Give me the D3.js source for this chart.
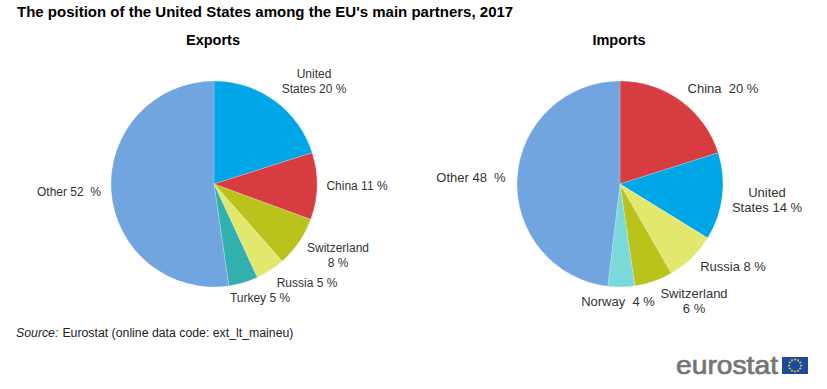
<!DOCTYPE html>
<html>
<head>
<meta charset="utf-8">
<script src="https://d3js.org/d3.v7.min.js"></script>
<style>
  html, body { margin: 0; padding: 0; background: #fff; }
  svg { display: block; }
  text { font-family: "Liberation Sans", Arial, sans-serif; }
  .slice-label { fill: #333; }
  .pie-title { font-size: 14.5px; font-weight: bold; fill: #000; text-anchor: middle; }
</style>
</head>
<body>
<svg id="canvas" width="827" height="389"></svg>
<script>
// slice shares, printed labels are the rounded ones
const exportNames = ["United States", "China", "Switzerland", "Russia", "Turkey", "Other"];
const exportValues = [20.1, 10.5, 7.9, 4.6, 4.6, 52.3];
const exportLabels = [["United", "States 20 %"], ["China 11 %"], ["Switzerland", "8 %"], ["Russia 5 %"], ["Turkey 5 %"], ["Other 52  %"]];

const importNames = ["China", "United States", "Russia", "Switzerland", "Norway", "Other"];
const importValues = [20.1, 13.7, 7.9, 6.0, 4.2, 48.1];
const importLabels = [["China  20 %"], ["United", "States 14 %"], ["Russia 8 %"], ["Switzerland", "6 %"], ["Norway  4 %"], ["Other 48  %"]];

const width = 827;
const height = 389;
const radius = 103;

const color = d3.scaleOrdinal()
    .domain(["United States", "China", "Switzerland", "Russia", "Turkey", "Norway", "Other"])
    .range(["#00a6e6", "#d73c41", "#b9c31c", "#e2e86e", "#32afaf", "#7bd9d9", "#71a5df"]);

const svg = d3.select("#canvas");

// label anchors are per pie, same order as the slices (centre of the text block)
const exportSpots = [[314, 78], [357, 190], [338, 252], [307, 287], [260, 302], [69, 196]];
const importSpots = [[723, 93], [767, 197], [733, 271], [694, 298], [618, 306], [471, 182]];

function drawPie(cx, cy, title, names, values, labels, spots, fontSize) {
    const pie = d3.pie().value(d => d).sort(null);
    const arc = d3.arc().innerRadius(0).outerRadius(radius);

    const g = svg.append("g").attr("transform", "translate(" + cx + "," + cy + ")");
    g.selectAll("path")
        .data(pie(values))
        .join("path")
        .attr("d", arc)
        .attr("fill", (d, i) => color(names[i]))
        .attr("stroke", "#fff")
        .attr("stroke-opacity", 0.35)
        .attr("stroke-width", 0.6);

    svg.append("text")
        .attr("class", "pie-title")
        .attr("x", cx - 1)
        .attr("y", 45)
        .text(title);

    labels.forEach((lines, i) => {
        const t = svg.append("text")
            .attr("class", "slice-label")
            .attr("text-anchor", "middle")
            .attr("font-size", fontSize)
            .attr("x", spots[i][0])
            .attr("y", spots[i][1]);
        lines.forEach((line, j) => {
            t.append("tspan")
                .attr("x", spots[i][0])
                .attr("dy", j == 0 ? 0 : 14.5)
                .style("white-space", "pre")
                .text(line);
        });
    });
}

drawPie(214, 184, "Exports", exportNames, exportValues, exportLabels, exportSpots, "12px");
drawPie(620, 184, "Imports", importNames, importValues, importLabels, importSpots, "13px");

//main title
svg.append("text")
    .attr("x", 17)
    .attr("y", 17)
    .attr("font-size", "15px")
    .attr("font-weight", "bold")
    .attr("fill", "#000")
    .text("The position of the United States among the EU's main partners, 2017");

//source line
const source = svg.append("text")
    .attr("x", 16)
    .attr("y", 337)
    .attr("font-size", "12.3px")
    .attr("fill", "#222");
source.append("tspan").attr("font-style", "italic").text("Source:");
source.append("tspan").attr("dx", 4).text("Eurostat (online data code: ext_lt_maineu)");

//eurostat logo
svg.append("text")
    .attr("x", 676)
    .attr("y", 374)
    .attr("font-size", "25px")
    .attr("fill", "#757575")
    .attr("stroke", "#757575")
    .attr("stroke-width", 0.7)
    .attr("textLength", 102)
    .attr("lengthAdjust", "spacingAndGlyphs")
    .text("eurostat");

const flagX = 782, flagY = 357, flagW = 26, flagH = 17;
svg.append("rect")
    .attr("x", flagX)
    .attr("y", flagY)
    .attr("width", flagW)
    .attr("height", flagH)
    .attr("fill", "#1f4a9c");

const stars = d3.range(12);
svg.append("g").selectAll("path")
    .data(stars)
    .join("path")
    .attr("d", d3.symbol(d3.symbolStar, 3))
    .attr("fill", "#e8d92a")
    .attr("transform", d => {
        const a = d / 12 * 2 * Math.PI;
        return "translate(" + (flagX + flagW / 2 + 6 * Math.sin(a)) + "," + (flagY + flagH / 2 - 6 * Math.cos(a)) + ")";
    });
</script>
</body>
</html>
